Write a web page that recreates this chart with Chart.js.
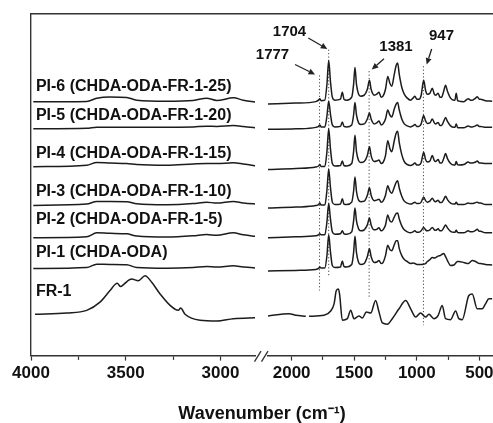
<!DOCTYPE html>
<html><head><meta charset="utf-8">
<script src="https://cdn.jsdelivr.net/npm/chart.js@4.4.0/dist/chart.umd.min.js"></script>
<style>html,body{margin:0;padding:0;background:#fff;overflow:hidden}</style>
</head><body>
<canvas id="c" width="493" height="423"></canvas>
<script>
// ---- data (wavenumber in cm-1, offset intensity in arbitrary units) ----
const seriesNames = ['PI-6 (CHDA-ODA-FR-1-25)','PI-5 (CHDA-ODA-FR-1-20)','PI-4 (CHDA-ODA-FR-1-15)','PI-3 (CHDA-ODA-FR-1-10)','PI-2 (CHDA-ODA-FR-1-5)','PI-1 (CHDA-ODA)','FR-1'];
const labelWn = 3974;
const labelY = [279, 249, 211, 173, 144.3, 111, 71.7];

const leftWnPI = [3988,3706,3653,3583,3495,3442,3284,3144,3073,3020,2932,2880,2800];
const pi6L = [263.3,263.7,267,268.3,267.7,265,264,264.7,267,264.7,267.3,265,262.7];
const pi5L = [236,236.5,237.7,237.7,237.7,237.5,237.5,238,238.7,238.5,239.3,238.5,236.7];
const pi4L = [197.7,199.3,202,201.5,201,200,199.3,200.5,201,201,201.7,200.5,198.3];
const pi3L = [158.7,160,162.7,162.7,162.5,160.3,159.3,160.5,162,161,162.7,161,160];
const pi2L = [126,127,131,130.5,130,127.7,126.7,128,129.3,128.5,131,129,127];
const pi1L = [95,96,99.3,99,98.7,96,95.3,96,97,96.5,97.7,96.5,95.3];

const rightWnPI = [2193,1967,1807,1785,1775,1765,1735,1718,1704,1690,
  1675,1655,1610,1595,1582,1560,1520,1505,1494,1482,
  1465,1448,1420,1395,1378,1365,1340,1320,1302,1285,
  1270,1250,1232,1215,1200,1180,1165,1153,1140,1120,
  1100,1076,1049,1030,1015,1000,983,965,945,930,
  916,895,876,860,850,829,815,802,785,770,
  755,730,704,695,685,675,664,624,589,570,
  557,530,517,500,491,451,398];
const pi6R = [261,262,263.5,265,266.5,264.5,265,281,305,284,
  268,265,266,273,266,265,268,281,298,281,
  271,269,270,276,285,276,270,271,273,268,
  269,276,289,282,279,291,300,302.5,291,278,
  271,267,265,267,269,266,266,270,285,275,
  271,272,277,271,270,272,268,268,274,280,
  274,267,265,265,272,265,264,263.5,266.5,265,
  265,267,268.5,266,266,264.5,264];
const pi5R = [235.5,236,237.5,238.5,240,238,238,249,264,251,
  240,238,238.5,243,238.5,238,240,250,262.5,250,
  242,240.5,241,246,252,246,241,242,244,240,
  241,246,255,250,248,256,261,262.5,255,246,
  241,239,238,239,240.5,238.5,238.5,241,249.5,244,
  241.5,242,246,242,241,242.5,239.5,239.5,243.5,247.5,
  243.5,239,237.5,237.5,241,237.5,237,237,239,238,
  238,239,240,238.5,238.5,237.5,237.5];
const pi4R = [195,196,197.5,198.5,200,198,198,213,236,216,
  201,198.5,199,203.5,199,198.5,201,213,229.5,213,
  204,202,203,209,218,209,203,203.5,204.5,201,
  202,209,224,216,213,224,231.5,233.5,222,210,
  203,200,199,200,201.5,199.5,199.5,202,212.5,205,
  202.5,203.5,209,204,203,205,201.5,201.5,206,211,
  206,201,199.5,199.5,203,200,199.5,200,202.5,201.5,
  201.5,202.5,203.5,201.5,201.5,201,201];
const pi3R = [156,157,158.5,159.5,161,159,159,174,195.5,177,
  162,159.5,160,165.5,160,159.5,162,173,187.5,173,
  164,162.5,163,169,176.5,169,163.5,164,165,162,
  163,169,178.5,173,171,177,182,183.5,176,168,
  163,161,160,161,162,160.5,160.5,162,167,163.5,
  162,163,166,163,162.5,164,161.5,161.5,164.5,168,
  164.5,161,160,160,162,160,159.5,159.5,161,160.5,
  160.5,161.5,162,161,161,159.5,159.5];
const pi2R = [126,127,128,129,130,129,129,142,160.5,145,
  132,129.5,130,133,130,129.5,132,143,156,143,
  135,133,134,139,146,139,134,134.5,136,133,
  134,139,149,143,142,147,150.5,151,145,138,
  134,132,131,132,133,131.5,131.5,133,136.5,134,
  133,134,136.5,134,133.5,135,133,133,136,139,
  136,132.5,131.5,131.5,133.5,131.5,131,131,133,132,
  132,133.5,134.5,132.5,132.5,131,131];
const pi1R = [92.5,93,94,95,96.5,95.5,95.5,108,129,112,
  98,96,96.5,102.5,97,96.5,99,111,127.5,111,
  101,99,100,107,115,107,101,101.5,103,100,
  101,108,118.5,114,113,119,123,123,115,108,
  104,102,100,100.5,100,99,99,99,99.5,100,
  102,104,106,105.5,106,107.5,108,109,110,107,
  103,98,98.5,99.5,101,102,102,101,100,102,
  103,102,101,100,100,99,98.5];

const frWnL = [3979,3812,3706,3636,3583,3545,3527,3509,3469,3434,3398,3363,3319,3266,3223,3210,3187,3108,3020,2932,2809];
const frL = [48.7,50,52.7,61,72.7,80,76.7,79.3,84.3,82.7,87.7,81,69.3,57.7,52.7,55,48.7,42.7,42,44.3,45.3];
const frWnR = [2193,2020,1967,1887,1874,1861,1741,1688,1661,1643,
  1626,1616,1595,1555,1528,1502,1462,1435,1403,1368,
  1329,1302,1275,1236,1196,1142,1089,1049,1009,970,
  930,903,863,829,797,770,730,690,664,637,
  584,557,517,477,451,424,398];
const frR = [47,49.3,47.7,46.7,null,46.7,47.7,52,59.3,72.7,
  74.3,68,42.7,44.3,52.7,44.3,47,45,51,50,
  62.7,51,40,38.7,44.3,54.3,62.7,54.3,46,50,
  46,48.7,44.3,47.7,57.7,44.3,43.3,52,44.3,43.3,
  67.7,69.3,54.3,54.3,59.3,64.3,64.3];

// marked bands (dotted lines) and their labels/arrows
const markWn = [1777, 1704, 1381, 947];
const markTop = [290, 316, 294.3, 299.3];
const markBottom = [72.7, 86, 64.3, 37.7];
const peakText = ['1704', '1777', '1381', '947'];
const peakTextWn = [2017, 2153, 1166, 802.5];
const peakTextY = [333.5, 310.3, 318.5, 330.2];
const arrowFromWn = [1867, 1973, 1262, 881];
const arrowFromY = [327.7, 301, 306.7, 316.7];
const arrowToWn = [1715, 1813, 1360, 921];
const arrowToY = [316.7, 291, 296, 301];

// axes
const leftTicks = [3000, 3250, 3500, 3750, 4000];
const leftLabels = [3000, 3500, 4000];
const rightTicks = [500, 750, 1000, 1250, 1500, 1750, 2000];
const rightLabels = [500, 1000, 1500, 2000];
const axisTitle = 'Wavenumber (cm\u207B\u00B9)';

// ---- build chart ----
const FONT = "'Liberation Sans', Arial, Helvetica, sans-serif";
Chart.defaults.font.family = FONT;
const INK = '#1c1c1c';
const pts = (xs, ys) => xs.map((x, i) => ({x: x, y: ys[i]}));
const leftSets = [pi6L, pi5L, pi4L, pi3L, pi2L, pi1L];
const rightSets = [pi6R, pi5R, pi4R, pi3R, pi2R, pi1R];
const lineStyle = {borderColor: INK, borderWidth: 1.5, pointRadius: 0, fill: false, cubicInterpolationMode: 'monotone', spanGaps: false};
const datasets = [];
seriesNames.forEach((name, i) => {
  if (i < 6) {
    datasets.push(Object.assign({label: name, xAxisID: 'xL', yAxisID: 'y', data: pts(leftWnPI, leftSets[i])}, lineStyle));
    datasets.push(Object.assign({label: name, xAxisID: 'xR', yAxisID: 'y', data: pts(rightWnPI, rightSets[i])}, lineStyle));
  } else {
    datasets.push(Object.assign({label: name, xAxisID: 'xL', yAxisID: 'y', data: pts(frWnL, frL)}, lineStyle));
    datasets.push(Object.assign({label: name, xAxisID: 'xR', yAxisID: 'y', data: pts(frWnR, frR)}, lineStyle));
  }
});
markWn.forEach((w, i) => {
  datasets.push({label: 'band ' + w, xAxisID: 'xR', yAxisID: 'y', data: [{x: w, y: markTop[i]}, {x: w, y: markBottom[i]}],
    borderColor: '#444', borderWidth: 1, borderDash: [1.2, 2.2], pointRadius: 0, fill: false});
});

const tickFont = {size: 17, weight: 'bold', family: FONT};
function bottomAxis(min, max, ticks, labels, weight) {
  return {
    type: 'linear', position: 'bottom', stack: 'x', stackWeight: weight, reverse: true,
    min: min, max: max, bounds: 'data',
    afterBuildTicks: (s) => { s.ticks = ticks.map(v => ({value: v})); },
    ticks: {autoSkip: false, maxRotation: 0, padding: 3, color: '#111', font: tickFont,
      callback: (v) => labels.includes(v) ? String(v) : ''},
    grid: {display: true, drawOnChartArea: false, drawTicks: true, tickLength: 5, tickColor: '#333', tickWidth: 1.2,
      tickBorderDash: (c) => (c.tick && !labels.includes(c.tick.value)) ? [3.5, 30] : []},
    border: {display: true, color: '#333', width: 1.4}
  };
}

const annoPlugin = {
  id: 'anno',
  afterDatasetsDraw(chart) {
    const ctx = chart.ctx, xL = chart.scales.xL, xR = chart.scales.xR, y = chart.scales.y;
    ctx.save();
    ctx.fillStyle = '#111';
    ctx.textBaseline = 'middle';
    ctx.textAlign = 'left';
    ctx.font = 'bold 16px ' + FONT;
    seriesNames.forEach((n, i) => ctx.fillText(n, xL.getPixelForValue(labelWn), y.getPixelForValue(labelY[i])));
    ctx.textAlign = 'center';
    ctx.font = 'bold 15px ' + FONT;
    peakText.forEach((t, i) => ctx.fillText(t, xR.getPixelForValue(peakTextWn[i]), y.getPixelForValue(peakTextY[i])));
    ctx.strokeStyle = '#222'; ctx.fillStyle = '#222'; ctx.lineWidth = 1.3;
    arrowFromWn.forEach((w, i) => {
      const x1 = xR.getPixelForValue(w), y1 = y.getPixelForValue(arrowFromY[i]);
      const x2 = xR.getPixelForValue(arrowToWn[i]), y2 = y.getPixelForValue(arrowToY[i]);
      const a = Math.atan2(y2 - y1, x2 - x1), L = 6.5, W = 3;
      const bx = x2 - L * Math.cos(a), by = y2 - L * Math.sin(a);
      ctx.beginPath(); ctx.moveTo(x1, y1); ctx.lineTo(bx, by); ctx.stroke();
      ctx.beginPath(); ctx.moveTo(x2, y2);
      ctx.lineTo(bx + W * Math.sin(a), by - W * Math.cos(a));
      ctx.lineTo(bx - W * Math.sin(a), by + W * Math.cos(a));
      ctx.closePath(); ctx.fill();
    });
    ctx.restore();
  },
  afterDraw(chart) {
    const g = chart.scales.xG, ctx = chart.ctx, b = chart.chartArea.bottom;
    ctx.save();
    ctx.strokeStyle = '#333'; ctx.lineWidth = 1.3;
    ctx.beginPath();
    ctx.moveTo(g.left - 0.5, b + 6); ctx.lineTo(g.left + 6, b - 4.5);
    ctx.moveTo(g.left + 6.5, b + 6); ctx.lineTo(g.left + 13, b - 4.5);
    ctx.stroke();
    ctx.restore();
  }
};

new Chart(document.getElementById('c'), {
  type: 'line',
  data: {datasets: datasets},
  options: {
    responsive: false, animation: false, devicePixelRatio: 1,
    layout: {padding: {left: 31, top: 14, right: 0, bottom: 0}},
    plugins: {
      legend: {display: false}, tooltip: {enabled: false},
      title: {display: true, position: 'bottom', text: axisTitle, color: '#111',
        font: {size: 18, weight: 'bold', family: FONT, lineHeight: 1.0}, padding: {top: 18, bottom: 0}}
    },
    scales: {
      xL: bottomAxis(2818, 4000, leftTicks, leftLabels, 224),
      xG: {type: 'linear', position: 'bottom', stack: 'x', stackWeight: 13, min: 0, max: 1,
        ticks: {display: false}, grid: {display: false, drawTicks: false}, border: {display: false}},
      xR: bottomAxis(391, 2189, rightTicks, rightLabels, 225),
      xT: {type: 'linear', position: 'top', min: 0, max: 1,
        ticks: {display: false}, grid: {display: true, drawOnChartArea: false, drawTicks: false},
        border: {display: true, color: '#333', width: 1.4}},
      y: {type: 'linear', position: 'left', min: 7, max: 352,
        ticks: {display: false}, grid: {display: true, drawOnChartArea: false, drawTicks: false},
        border: {display: true, color: '#333', width: 1.4}}
    }
  },
  plugins: [annoPlugin]
});
</script>
</body></html>
